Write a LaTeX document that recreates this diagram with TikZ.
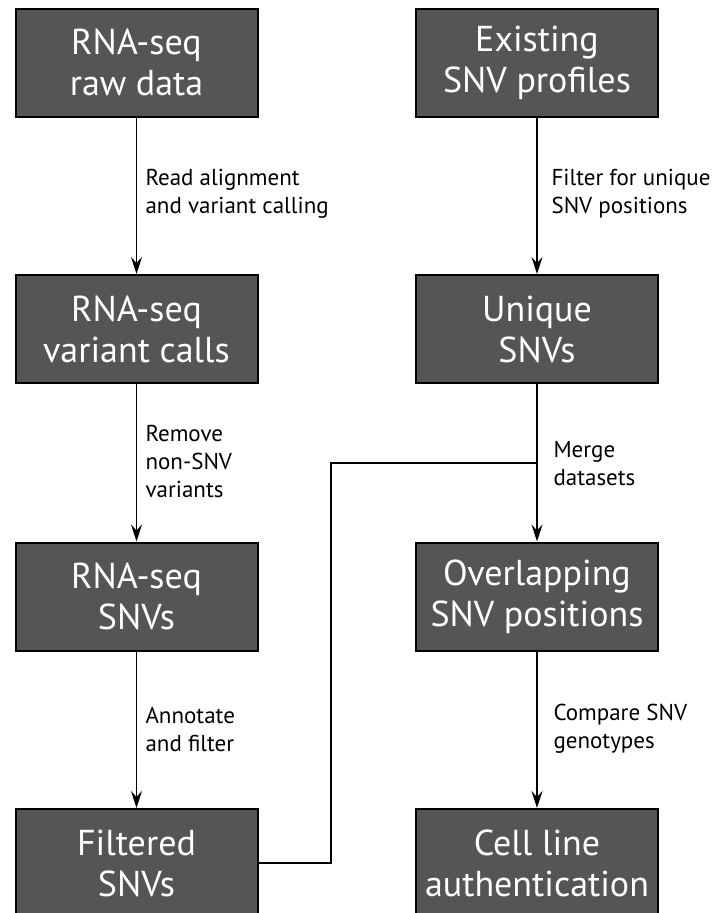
\documentclass[tikz,border=0pt]{standalone}
\usepackage{fontspec}
\setmainfont{PT Sans}
\usetikzlibrary{arrows.meta}
\definecolor{boxgray}{RGB}{85,85,88}
\tikzset{
  stage/.style={draw=black, line width=2pt, fill=boxgray, text=white,
    minimum width=242pt, minimum height=108pt, align=center,
    font=\fontsize{36}{41}\selectfont},
  flow/.style={line width=1.6pt, -{Stealth[length=17pt,width=11pt,inset=6pt]}},
  link/.style={line width=1.6pt},
  note/.style={anchor=west, align=left, font=\fontsize{23}{28}\selectfont}
}
\begin{document}
\begin{tikzpicture}[x=1pt,y=-1pt]
  \useasboundingbox (0,0) rectangle (713,913);
  % left column
  \node [stage] (raw)  at (136.5,62.5) {RNA-seq\\raw data};
  \node [stage] (calls) at (136.5,329) {RNA-seq\\variant calls};
  \node [stage] (snvs) at (136.5,596.5) {RNA-seq\\SNVs};
  \node [stage] (filt) at (136.5,863) {Filtered\\SNVs};
  % right column
  \node [stage] (prof) at (537,62.5) {Existing\\SNV profiles};
  \node [stage] (uniq) at (537,329) {Unique\\SNVs};
  \node [stage] (over) at (537,596.5) {Overlapping\\SNV positions};
  \node [stage] (auth) at (537,863) {Cell line\\authentication};

  \draw [flow] (raw) -- (calls);
  \draw [flow] (calls) -- (snvs);
  \draw [flow] (snvs) -- (filt);
  \draw [flow] (prof) -- (uniq);
  \draw [flow] (uniq) -- (over);
  \draw [flow] (over) -- (auth);

  \coordinate (merge) at (537,463);
  \coordinate (bend) at (331,463);
  \draw [link] (filt.east) -| (bend) -- (merge);

  \node [note] (n1) at (142,194) {Read alignment\\and variant calling};
  \node [note] (n2) at (142,461) {Remove\\non-SNV\\variants};
  \node [note] (n3) at (142,729) {Annotate\\and filter};
  \node [note] (n4) at (548,194) {Filter for unique\\SNV positions};
  \node [note] (n5) at (550,464) {Merge\\datasets};
  \node [note] (n6) at (550,729) {Compare SNV\\genotypes};
\end{tikzpicture}
\end{document}
